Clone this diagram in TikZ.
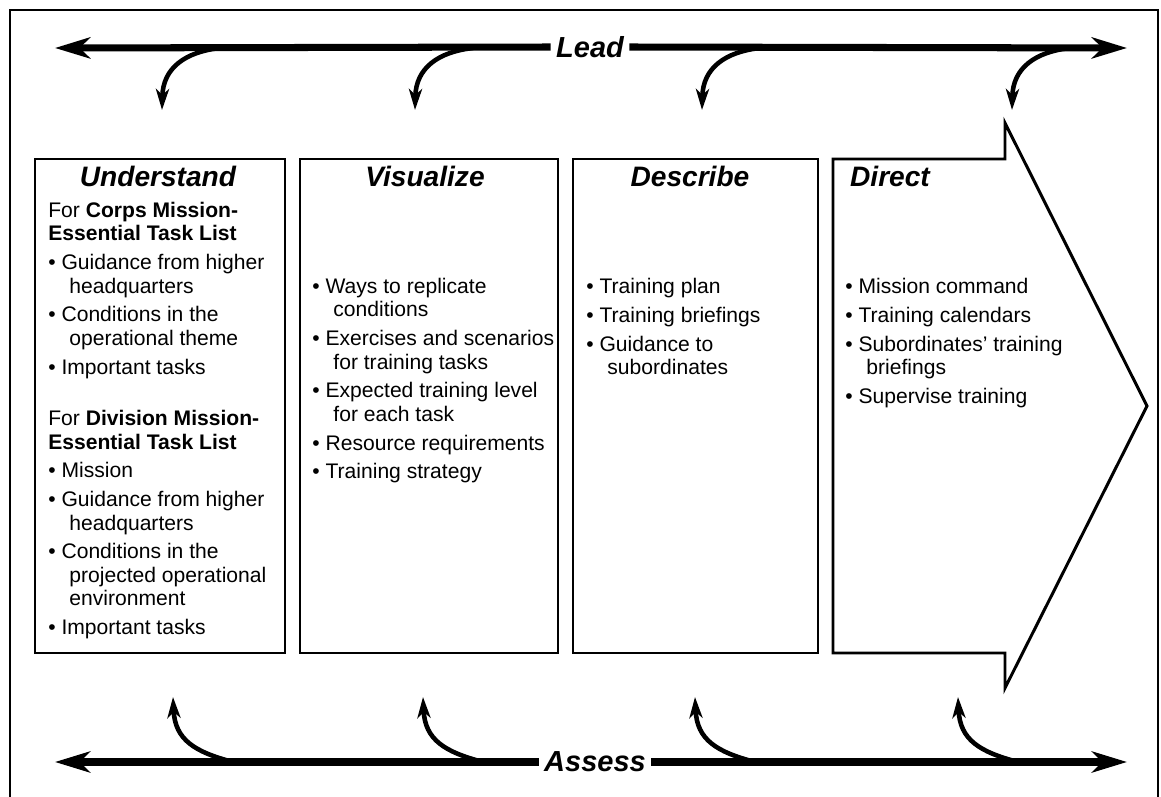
\documentclass[tikz,border=0pt]{standalone}
\usepackage{fontspec}
\setmainfont{Liberation Sans}
\usetikzlibrary{arrows.meta}

\newcommand{\bul}{\textbullet\ }
\newcommand{\ind}{\hspace*{12pt}}

\begin{document}
\begin{tikzpicture}[x=0.02cm,y=-0.02cm,
    outerframe/.style={line width=1.2pt},
    boxline/.style={line width=1.7pt, line join=miter},
    mainline/.style={line width=4pt, -{Stealth[length=20pt,width=12pt,inset=6pt]}},
    bendline/.style={line width=2.6pt, -{Stealth[length=12pt,width=7.5pt,inset=3.5pt]}},
    phasetitle/.style={font=\fontsize{16}{18}\selectfont\bfseries\itshape, inner sep=0pt},
    cycletext/.style={font=\fontsize{16.5}{18}\selectfont\bfseries\itshape, inner xsep=3pt, inner ysep=0pt},
    body/.style={font=\fontsize{12}{13.3}\selectfont, align=left, inner sep=0pt, anchor=north west}]

        \useasboundingbox (0,0) rectangle (1161,797);

        %frame
        \draw[outerframe] (10,797) -- (10,10) -- (1158,10) -- (1158,797);

        %lead line
        \node[cycletext] (lead) at (590,47) {Lead};
        \coordinate (leadL) at (55,48);
        \coordinate (leadR) at (1127,48);
        \draw[mainline] (lead.west) -- (leadL);
        \draw[mainline] (lead.east) -- (leadR);
        \foreach \t [count=\i] in {162,415,702,1012}{
            \coordinate (lf\i) at (\t+58,48);
            \coordinate (lt\i) at (\t,110);
            \draw[bendline] (lf\i) .. controls +(-35,4) and +(1,-42) .. (lt\i);
        }

        %assess line
        \node[cycletext] (assess) at (595,762) {Assess};
        \coordinate (assessL) at (55,762);
        \coordinate (assessR) at (1127,762);
        \draw[mainline] (assess.west) -- (assessL);
        \draw[mainline] (assess.east) -- (assessR);
        \foreach \t [count=\i] in {173,423,695,958}{
            \coordinate (af\i) at (\t+60,762);
            \coordinate (at\i) at (\t,697);
            \draw[bendline] (af\i) .. controls +(-38,-10) and +(2,43) .. (at\i);
        }

        %boxes
        \draw[boxline] (35,159) rectangle (285,653);
        \draw[boxline] (300,159) rectangle (558,653);
        \draw[boxline] (573,159) rectangle (818,653);
        \draw[boxline] (833,159) -- (1005,159) -- (1005,123) -- (1147,406)
            -- (1005,688) -- (1005,653) -- (833,653) -- cycle;

        %titles
        \node[phasetitle] (und) at (158,176) {Understand};
        \node[phasetitle] (vis) at (425,176) {Visualize};
        \node[phasetitle] (des) at (690,176) {Describe};
        \node[phasetitle] (dir) at (890,176) {Direct};

        %texts
        \node[body] (undtxt) at (48,202) {For \textbf{Corps Mission-}\\
            \textbf{Essential Task List}\\[3.1pt]
            \bul Guidance from higher\\ \ind headquarters\\[3.1pt]
            \bul Conditions in the\\ \ind operational theme\\[3.1pt]
            \bul Important tasks\\[16pt]
            For \textbf{Division Mission-}\\
            \textbf{Essential Task List}\\[3.1pt]
            \bul Mission\\[3.1pt]
            \bul Guidance from higher\\ \ind headquarters\\[3.1pt]
            \bul Conditions in the\\ \ind projected operational\\ \ind environment\\[3.1pt]
            \bul Important tasks};
        \node[body] (vistxt) at (312,278) {\bul Ways to replicate\\ \ind conditions\\[3.1pt]
            \bul Exercises and scenarios\\ \ind for training tasks\\[3.1pt]
            \bul Expected training level\\ \ind for each task\\[3.1pt]
            \bul Resource requirements\\[3.1pt]
            \bul Training strategy};
        \node[body] (destxt) at (586,278) {\bul Training plan\\[3.1pt]
            \bul Training briefings\\[3.1pt]
            \bul Guidance to\\ \ind subordinates};
        \node[body] (dirtxt) at (845,278) {\bul Mission command\\[3.1pt]
            \bul Training calendars\\[3.1pt]
            \bul Subordinates’ training\\ \ind briefings\\[3.1pt]
            \bul Supervise training};

\end{tikzpicture}
\end{document}
